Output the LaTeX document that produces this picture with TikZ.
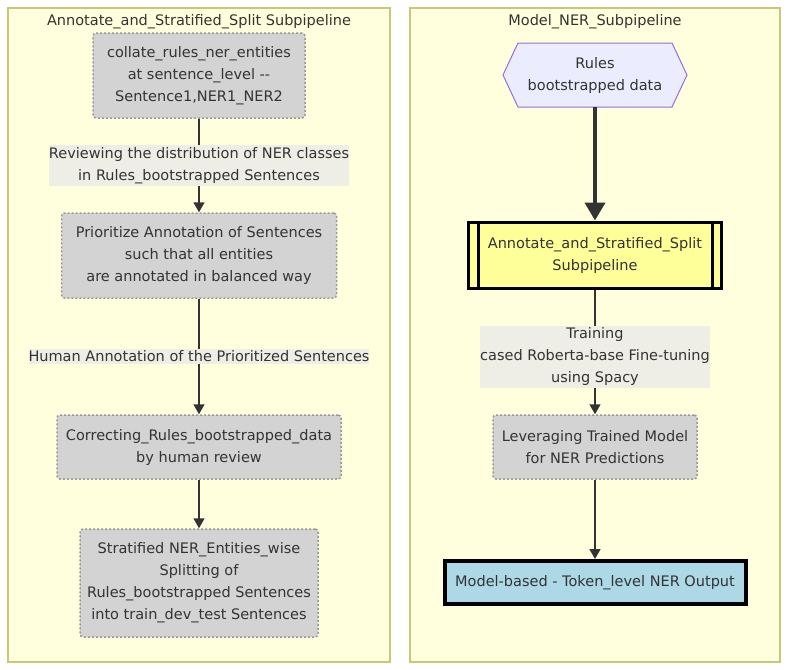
\documentclass[tikz,border=0pt]{standalone}
\usepackage{fontspec}
\setmainfont{DejaVu Sans}
\usepackage{xcolor}
\usetikzlibrary{arrows.meta}

\definecolor{clusterfill}{HTML}{FFFFDE}
\definecolor{clusterline}{HTML}{C8C878}
\definecolor{boxfill}{HTML}{D3D3D3}
\definecolor{boxline}{HTML}{999999}
\definecolor{txt}{HTML}{333333}
\definecolor{hexfill}{HTML}{ECECFF}
\definecolor{hexline}{HTML}{9370DB}
\definecolor{subfill}{HTML}{FFFF99}
\definecolor{outfill}{HTML}{ADD8E6}
\definecolor{labelfill}{HTML}{EEEEE6}

\begin{document}
\begin{tikzpicture}[x=1pt, y=-1pt,
  font=\fontsize{14.5}{22}\selectfont, text=txt,
  cluster/.style={draw=clusterline, fill=clusterfill, line width=1.5pt},
  procbox/.style={draw=boxline, fill=boxfill, dash pattern=on 2pt off 2pt,
    line width=1.5pt, rounded corners=3pt, align=center, inner sep=0pt},
  edgelabel/.style={fill=labelfill, align=center, inner xsep=0pt, inner ysep=2pt},
  flow/.style={draw=txt, line width=1.5pt, -{Triangle[length=10pt,width=11pt]}}]

  % Page and the two subpipeline frames
  \fill[white] (0,0) rectangle (788,670);
  \useasboundingbox (0,0) rectangle (788,670);
  \draw[cluster] (8,8) rectangle (390,662);
  \draw[cluster] (410,8) rectangle (780,662);
  \node (lefttitle) at (199,22) {Annotate\_and\_Stratified\_Split Subpipeline};
  \node (righttitle) at (595,22) {Model\_NER\_Subpipeline};

  % Left subpipeline steps
  \node[procbox, minimum width=212pt, minimum height=85pt] (collate) at (199,75.5)
    {collate\_rules\_ner\_entities\\at sentence\_level -{}-\\Sentence1,NER1\_NER2};
  \node[procbox, minimum width=275pt, minimum height=85pt] (prioritize) at (199,255.5)
    {Prioritize Annotation of Sentences\\such that all entities\\are annotated in balanced way};
  \node[procbox, minimum width=284pt, minimum height=64pt] (correct) at (199,447)
    {Correcting\_Rules\_bootstrapped\_data\\by human review};
  \node[procbox, minimum width=238pt, minimum height=108pt] (split) at (199,583)
    {Stratified NER\_Entities\_wise\\Splitting of\\Rules\_bootstrapped Sentences\\into train\_dev\_test Sentences};

  \draw[flow] (collate) -- node[edgelabel] (review)
    {Reviewing the distribution of NER classes\\in Rules\_bootstrapped Sentences} (prioritize);
  \draw[flow] (prioritize) -- node[edgelabel] (human)
    {Human Annotation of the Prioritized Sentences} (correct);
  \draw[flow] (correct) -- (split);

  % Right subpipeline: hexagon for the input data
  \draw[draw=hexline, fill=hexfill, line width=1pt]
    (503,75) -- (518,43) -- (672,43) -- (687,75) -- (672,107) -- (518,107) -- cycle;
  \node[align=center, minimum width=184pt, minimum height=64pt, inner sep=0pt] (rules) at (595,75)
    {Rules\\bootstrapped data};

  \node[draw=black, line width=3pt, fill=subfill, align=center, inner sep=0pt,
    minimum width=253pt, minimum height=66pt] (subpipe) at (595,255)
    {Annotate\_and\_Stratified\_Split\\Subpipeline};
  \draw[line width=3pt] ([xshift=11pt]subpipe.north west) -- ([xshift=11pt]subpipe.south west);
  \draw[line width=3pt] ([xshift=-11pt]subpipe.north east) -- ([xshift=-11pt]subpipe.south east);

  \node[procbox, minimum width=204pt, minimum height=64pt] (leverage) at (595,447)
    {Leveraging Trained Model\\for NER Predictions};
  \node[draw=black, line width=4pt, fill=outfill, inner sep=0pt,
    minimum width=301pt, minimum height=43pt] (output) at (595,582.5)
    {Model-based - Token\_level NER Output};

  \draw[draw=txt, line width=4pt, -{Triangle[length=18pt,width=20pt]}] (rules) -- (subpipe);
  \draw[flow] (subpipe) -- node[edgelabel, pos=0.54] (training)
    {Training\\cased Roberta-base Fine-tuning\\using Spacy} (leverage);
  \draw[flow] (leverage) -- (output);
\end{tikzpicture}
\end{document}
